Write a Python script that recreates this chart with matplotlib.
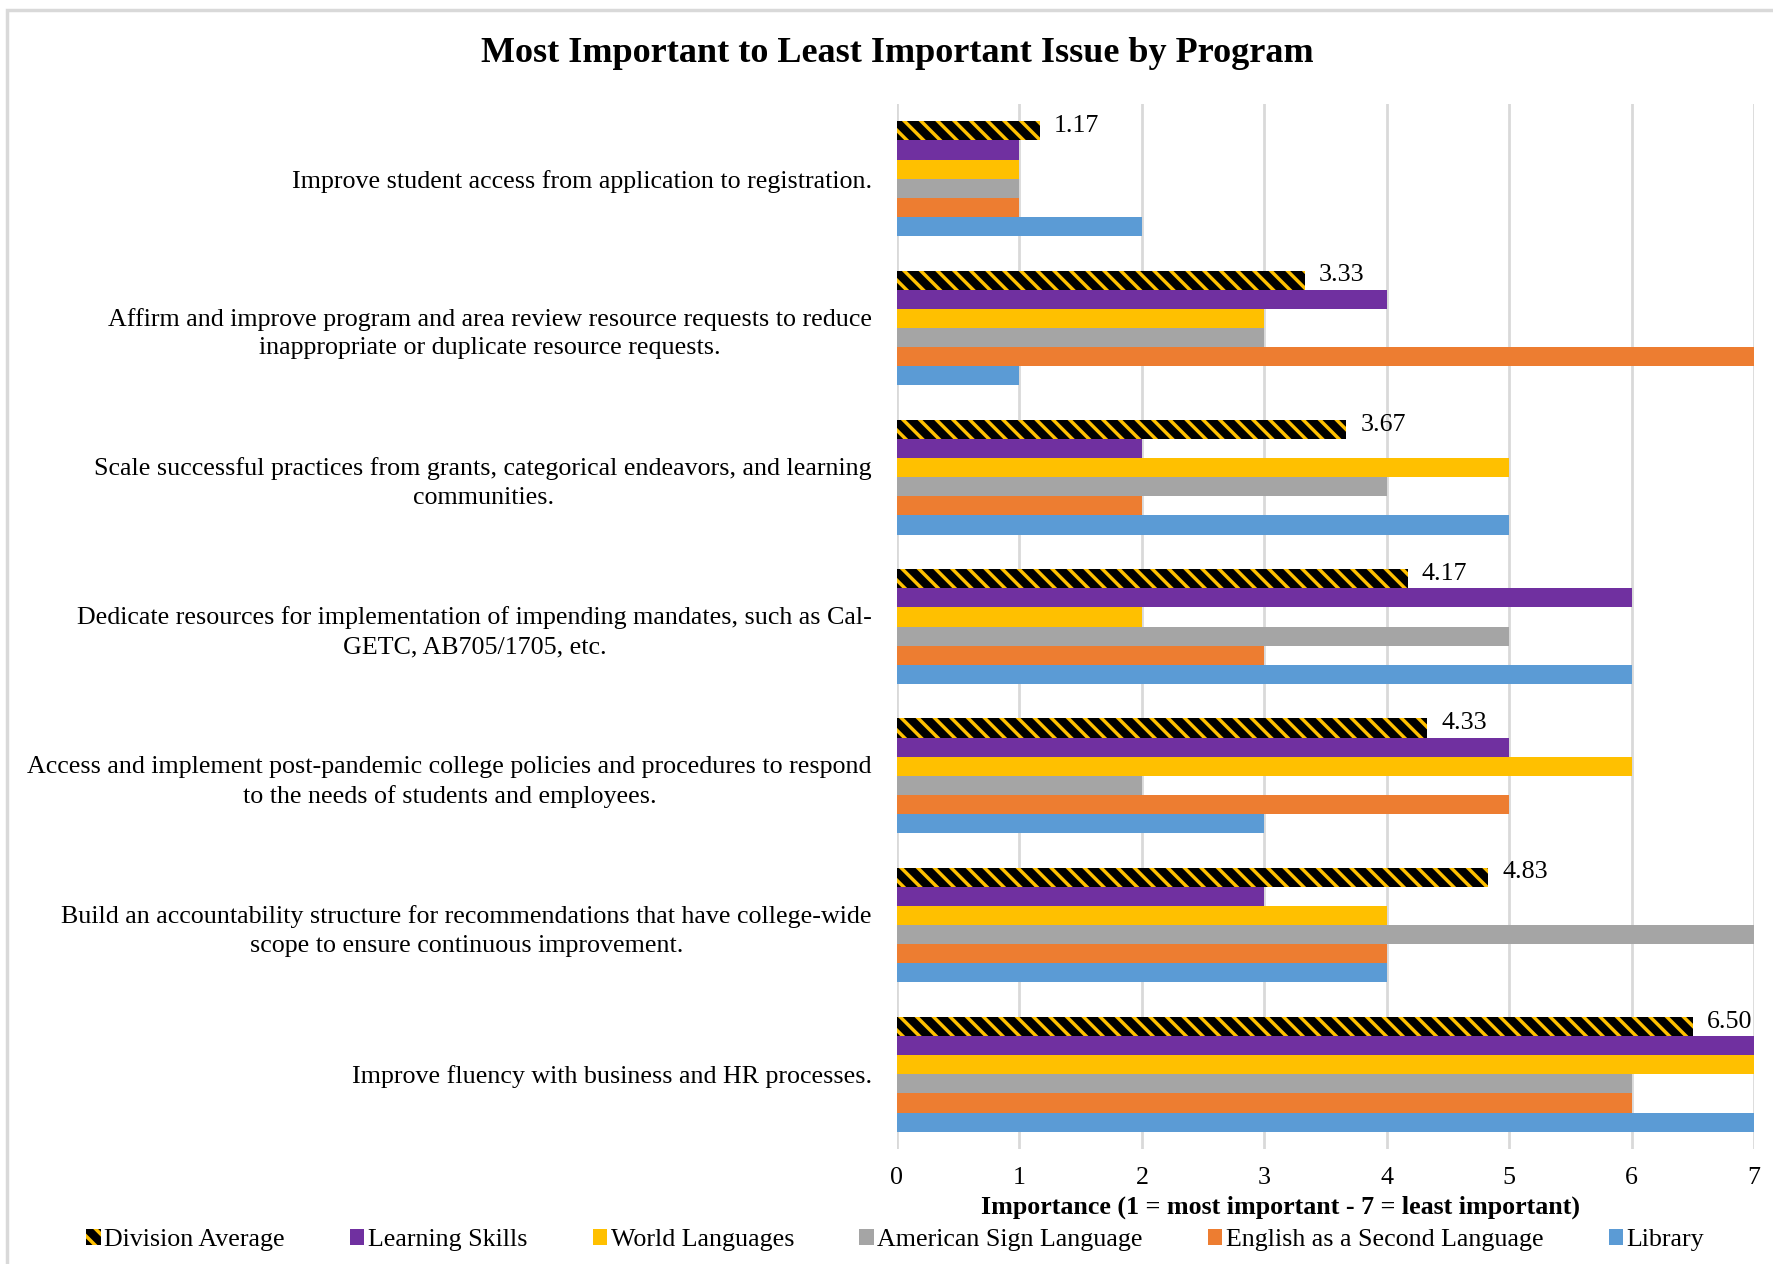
import matplotlib.pyplot as plt
import matplotlib.patches as mpatches
import numpy as np

plt.rcParams['font.family'] = ['Liberation Serif', 'DejaVu Serif']
plt.rcParams['hatch.linewidth'] = 2.5

# issues, top to bottom
issues = [
    "Improve student access from application to registration.",
    "Affirm and improve program and area review resource requests to reduce\ninappropriate or duplicate resource requests.",
    "Scale successful practices from grants, categorical endeavors, and learning\ncommunities.",
    "Dedicate resources for implementation of impending mandates, such as Cal-\nGETC, AB705/1705, etc.",
    "Access and implement post-pandemic college policies and procedures to respond\nto the needs of students and employees.",
    "Build an accountability structure for recommendations that have college-wide\nscope to ensure continuous improvement.",
    "Improve fluency with business and HR processes.",
]

division_avg = [1.17, 3.33, 3.67, 4.17, 4.33, 4.83, 6.50]
learning_skills = [1, 4, 2, 6, 5, 3, 7]
world_languages = [1, 3, 5, 2, 6, 4, 7]
asl = [1, 3, 4, 5, 2, 7, 6]
esl = [1, 7, 2, 3, 5, 4, 6]
library = [2, 1, 5, 6, 3, 4, 7]

programs = ["Learning Skills", "World Languages", "American Sign Language",
            "English as a Second Language", "Library"]
prog_values = [learning_skills, world_languages, asl, esl, library]
prog_colors = ["#7030A0", "#FFC000", "#A5A5A5", "#ED7D31", "#5B9BD5"]

fs = 18.7
fig = plt.figure(figsize=(17.73, 12.64), dpi=100)
ax = fig.add_axes([0.5059, 0.091, 0.4834, 0.8267])

n = len(issues)
bh = 0.128
centers = np.arange(n)  # row 0 on top (axis inverted)

# hatched division average bar sits on top of each group
offs = (np.arange(6) - 2.5) * bh
avg_bars = ax.barh(centers + offs[0], division_avg, height=bh, color="black",
                   edgecolor="#FFC000", linewidth=0, hatch="\\\\")
for i, (vals, col) in enumerate(zip(prog_values, prog_colors)):
    ax.barh(centers + offs[i + 1], vals, height=bh, color=col, linewidth=0)

for rect, v in zip(avg_bars, division_avg):
    ax.annotate(f"{v:.2f}", (rect.get_width(), rect.get_y() + rect.get_height() / 2),
                xytext=(10, 3.5), textcoords="offset points", ha="left", va="center",
                fontsize=fs)

ax.set_xlim(0, 7)
ax.set_ylim(n - 0.5, -0.5)
ax.set_xticks(range(8))
ax.set_yticks(centers)
ax.set_yticklabels(issues, fontsize=fs, linespacing=1.38)
for t in ax.get_yticklabels():
    t.set_multialignment("center")
ax.tick_params(axis="y", length=0, pad=18)
ax.tick_params(axis="x", length=0, pad=13, labelsize=fs)
for s in ax.spines.values():
    s.set_visible(False)
ax.grid(axis="x", color="#D9D9D9", linewidth=2)
ax.set_axisbelow(True)

ax.set_xlabel("Importance (1 = most important - 7 = least important)",
              fontsize=fs, fontweight="bold", labelpad=2)
ax.xaxis.set_label_coords(0.447, -0.045)

fig.text(0.506, 0.958, "Most Important to Least Important Issue by Program",
         ha="center", va="center", fontsize=26, fontweight="bold")

handles = [mpatches.Patch(facecolor="black", edgecolor="#FFC000", linewidth=0,
                          hatch="\\\\", label="Division Average")]
handles += [mpatches.Patch(facecolor=c, linewidth=0, label=p)
            for p, c in zip(programs, prog_colors)]
fig.legend(handles=handles, loc="center", bbox_to_anchor=(0.505, 0.019), ncol=6,
           frameon=False, fontsize=fs, handlelength=0.55, handleheight=0.55,
           handletextpad=0.15, columnspacing=2.5)

# light chart border
fig.patches.append(mpatches.Rectangle((0.004, -0.02), 1.1, 1.012,
                                      transform=fig.transFigure, fill=False,
                                      edgecolor="#D9D9D9", linewidth=2.5))

fig.savefig("out.png", dpi=100)
